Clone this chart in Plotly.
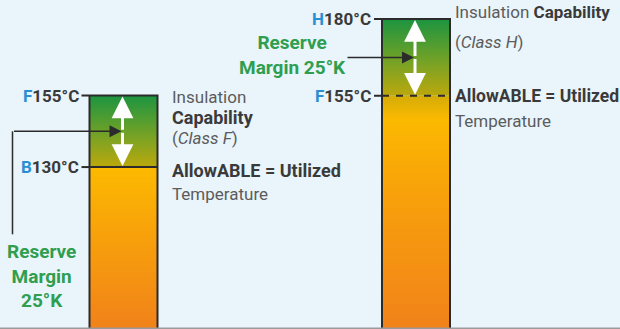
import plotly.graph_objects as go

# Insulation classes: capability vs. allowable (utilized) temperature
classes = ["F", "H"]
capability_letter = ["F", "H"]
capability_temp = [155, 180]   # °C
utilized_letter = ["B", "F"]
utilized_temp = [130, 155]     # °C
margin_k = [c - u for c, u in zip(capability_temp, utilized_temp)]

# ---- layout constants -------------------------------------------------
W, H = 620, 329
bar_center = [123.5, 416.0]
bar_width = 68
y_ranges = [[73.4, 188.4], [79.0, 186.2]]   # one temperature axis per column
axis_names = ["y", "y2"]
util_dash = ["solid", "7px,7px"]

FONT = "Roboto, Liberation Sans, sans-serif"
BG = "#e9f4fb"
INK = "#2b2b2b"
TEXT = "#3a3a3a"
GREY_TEXT = "#5c5c5c"
BLUE = "#2a8fd2"
GREEN = "#2f9e4f"

upper_scale = [[0.0, "#bca80c"], [0.45, "#74a226"], [1.0, "#1c9440"]]
lower_scale_sharp = [[0.0, "#f1821a"], [0.6, "#f8a20a"], [1.0, "#fcba00"]]
lower_scale_soft = [[0.0, "#f1821a"], [0.6, "#f8a20a"], [0.9, "#fbb900"], [1.0, "#d4ac08"]]
lower_scales = [lower_scale_sharp, lower_scale_soft]

fig = go.Figure()
annotations = []

for i, cls in enumerate(classes):
    yax = axis_names[i]
    base = y_ranges[i][0]
    cap = capability_temp[i]
    util = utilized_temp[i]
    xl = bar_center[i] - bar_width / 2
    xr = bar_center[i] + bar_width / 2

    # lower (utilized) part of the bar
    fig.add_trace(go.Scatter(
        x=[xl, xr, xr, xl, xl], y=[base, base, util, util, base],
        mode="lines", line=dict(width=0), fill="toself",
        fillgradient=dict(type="vertical", colorscale=lower_scales[i]),
        yaxis=yax, hoverinfo="skip"))
    # reserve-margin part of the bar
    fig.add_trace(go.Scatter(
        x=[xl, xr, xr, xl, xl], y=[util, util, cap, cap, util],
        mode="lines", line=dict(width=0), fill="toself",
        fillgradient=dict(type="vertical", colorscale=upper_scale),
        yaxis=yax, hoverinfo="skip"))
    # bar outline with tick stub at the capability level
    fig.add_trace(go.Scatter(
        x=[xl, xl, xl - 8, xl, xr, xr], y=[base, cap, cap, cap, cap, base],
        mode="lines", line=dict(color=INK, width=2),
        yaxis=yax, hoverinfo="skip"))
    # utilized temperature line
    fig.add_trace(go.Scatter(
        x=[xl - 8, xl], y=[util, util], mode="lines",
        line=dict(color=INK, width=2), yaxis=yax, hoverinfo="skip"))
    fig.add_trace(go.Scatter(
        x=[xl, xr], y=[util, util], mode="lines",
        line=dict(color=INK, width=2, dash=util_dash[i]),
        yaxis=yax, hoverinfo="skip"))

    # white double arrow spanning the reserve margin
    mid = (cap + util) / 2
    for tip in (cap, util):
        annotations.append(dict(
            x=bar_center[i] - 1, y=tip, ax=bar_center[i] - 1, ay=mid,
            xref="x", yref=yax, axref="x", ayref=yax, text="",
            showarrow=True, arrowhead=2, arrowsize=1.45, arrowwidth=3,
            arrowcolor="white", standoff=1))

    # temperature labels left of the bar
    for letter, temp in ((capability_letter[i], cap), (utilized_letter[i], util)):
        annotations.append(dict(
            x=xl - 9, y=temp, xref="x", yref=yax, xanchor="right", yanchor="middle",
            text=f"<span style='color:{BLUE}'>{letter}</span>{temp}°C",
            showarrow=False, font=dict(family=FONT, size=17, color=TEXT, weight="bold")))

# dark pointer arrows from the reserve margin captions
left_mid = (capability_temp[0] + utilized_temp[0]) / 2
right_mid = (capability_temp[1] + utilized_temp[1]) / 2
fig.add_trace(go.Scatter(
    x=[12.5, 12.5], y=[106.5, left_mid], mode="lines",
    line=dict(color=INK, width=1.5), yaxis="y", hoverinfo="skip"))
annotations.append(dict(
    x=bar_center[0] - 2, y=left_mid, ax=12.5, ay=left_mid,
    xref="x", yref="y", axref="x", ayref="y", text="", showarrow=True,
    arrowhead=2, arrowsize=1.6, arrowwidth=1.5, arrowcolor=INK, standoff=0))
annotations.append(dict(
    x=bar_center[1] - 2, y=right_mid, ax=346, ay=right_mid,
    xref="x", yref="y2", axref="x", ayref="y2", text="", showarrow=True,
    arrowhead=2, arrowsize=1.6, arrowwidth=1.5, arrowcolor=INK, standoff=0))

# reserve margin captions
annotations.append(dict(
    x=41, y=1 - 276 / H, xref="x", yref="paper", xanchor="center", yanchor="middle",
    text=f"Reserve<br>Margin<br>{margin_k[0]}°K", align="center", showarrow=False,
    font=dict(family=FONT, size=19, color=GREEN, weight="bold")))
annotations.append(dict(
    x=292, y=1 - 55 / H, xref="x", yref="paper", xanchor="center", yanchor="middle",
    text=f"Reserve<br>Margin {margin_k[1]}°K", align="center", showarrow=False,
    font=dict(family=FONT, size=19, color=GREEN, weight="bold")))

# descriptive text to the right of each bar
def note(x, y, yref, yshift, text, bold=False, color=GREY_TEXT, size=17):
    annotations.append(dict(
        x=x, y=y, xref="x", yref=yref, yshift=yshift, xanchor="left", yanchor="middle",
        text=text, showarrow=False,
        font=dict(family=FONT, size=size, color=color, weight="bold" if bold else "normal")))

lx = bar_center[0] + bar_width / 2 + 12
note(lx, capability_temp[0], "y", -1, "Insulation")
note(lx, capability_temp[0], "y", -22, "Capability", bold=True, color=TEXT, size=18)
note(lx, capability_temp[0], "y", -42, f"(<i>Class {classes[0]}</i>)")
note(lx, utilized_temp[0], "y", -3, "AllowABLE = Utilized", bold=True, color=TEXT, size=18)
note(lx, utilized_temp[0], "y", -27, "Temperature")

rx = bar_center[1] + bar_width / 2 + 3
note(rx, capability_temp[1], "y2", 7,
     f"Insulation <b style='color:{TEXT}'>Capability</b>")
note(rx, capability_temp[1], "y2", -23, f"(<i>Class {classes[1]}</i>)")
note(rx, utilized_temp[1], "y2", 0, "AllowABLE = Utilized", bold=True, color=TEXT, size=17.5)
note(rx, utilized_temp[1], "y2", -25, "Temperature")

fig.update_layout(
    width=W, height=H, autosize=False,
    margin=dict(l=0, r=0, t=0, b=0),
    paper_bgcolor=BG, plot_bgcolor=BG, showlegend=False,
    xaxis=dict(range=[0, W], visible=False, fixedrange=True),
    yaxis=dict(range=y_ranges[0], visible=False, fixedrange=True),
    yaxis2=dict(range=y_ranges[1], visible=False, fixedrange=True,
                overlaying="y"),
    annotations=annotations,
    shapes=[dict(type="line", xref="paper", yref="paper", x0=0, x1=1,
                 y0=0.002, y1=0.002, line=dict(color="#9a9a9a", width=1.5))],
)

fig.write_html("out.html")
